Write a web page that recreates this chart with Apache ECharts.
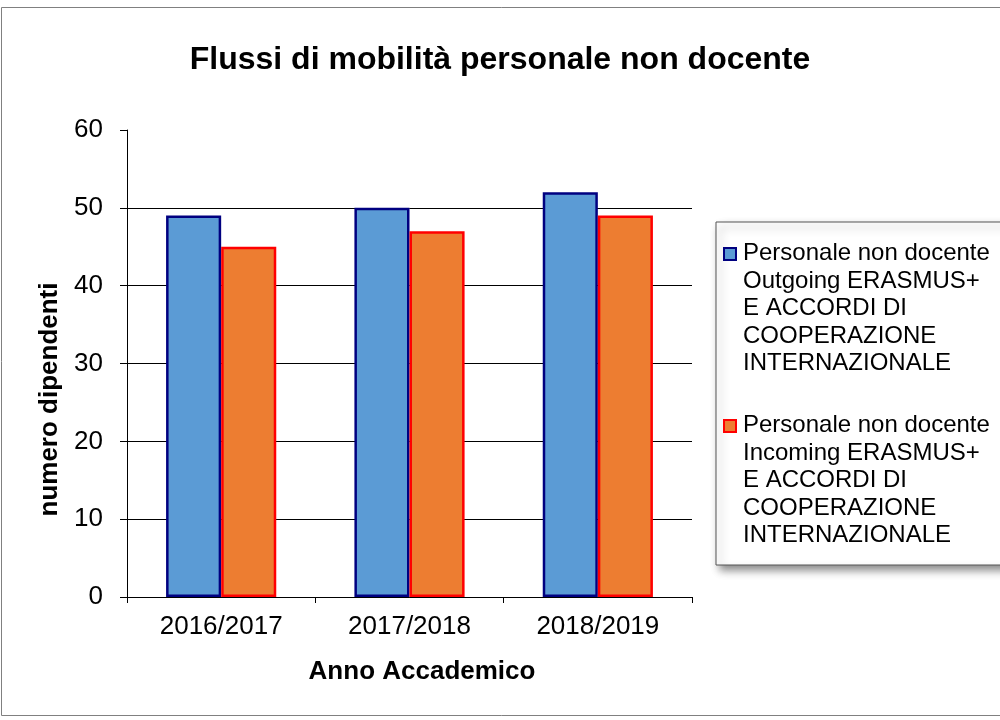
<!DOCTYPE html>
<html>
<head>
<meta charset="utf-8">
<title>Flussi di mobilità personale non docente</title>
<script src="https://cdn.jsdelivr.net/npm/echarts@6/dist/echarts.min.js"></script>
<style>
  html, body { margin: 0; padding: 0; background: #fff; }
  #chart { width: 1000px; height: 720px; }
</style>
</head>
<body>
<div id="chart"></div>
<script>
const categories = ['2016/2017', '2017/2018', '2018/2019'];
const outgoing = [49, 50, 52];
const incoming = [45, 47, 49];
const seriesNames = [
  'Personale non docente\nOutgoing ERASMUS+\nE ACCORDI DI\nCOOPERAZIONE\nINTERNAZIONALE',
  'Personale non docente\nIncoming ERASMUS+\nE ACCORDI DI\nCOOPERAZIONE\nINTERNAZIONALE'
];

const font = "'Liberation Sans', Arial, sans-serif";
// legend icon: small square near the top of a tall box, so it lines up with the first text line
const legendIcon = 'path://M0,8L12,8L12,20L0,20Z M0,0 M12,137';

const chart = echarts.init(document.getElementById('chart'));

const option = {
  backgroundColor: '#fff',
  animation: false,
  textStyle: { fontFamily: font, color: '#000' },
  title: {
    text: 'Flussi di mobilità personale non docente',
    left: 'center',
    top: 39,
    textStyle: { fontFamily: font, fontSize: 32, fontWeight: 'bold', color: '#000' }
  },
  graphic: [{
    type: 'rect',
    shape: { x: 1.5, y: 7.5, width: 1010, height: 708 },
    style: { fill: 'none', stroke: '#808080', lineWidth: 1 },
    z: -1
  }],
  legend: {
    orient: 'vertical',
    left: 716,
    top: 222,
    icon: legendIcon,
    itemWidth: 12,
    itemHeight: 137,
    itemGap: 33,
    padding: [17, 40, 15, 7],
    backgroundColor: '#fff',
    borderColor: '#555',
    borderWidth: 1,
    shadowBlur: 8,
    shadowColor: 'rgba(0,0,0,0.45)',
    shadowOffsetX: 4,
    shadowOffsetY: 5,
    textStyle: { fontFamily: font, fontSize: 24, lineHeight: 27.5, color: '#000', padding: [0, 0, 0, 2] },
    data: seriesNames
  },
  grid: { left: 127, right: 308, top: 130, bottom: 123 },
  xAxis: {
    type: 'category',
    data: categories,
    name: 'Anno Accademico',
    nameLocation: 'middle',
    nameGap: 62,
    nameTextStyle: { fontFamily: font, fontSize: 26, fontWeight: 'bold', color: '#000', padding: [0, 0, 0, 25] },
    axisLine: { lineStyle: { color: '#000', width: 1 } },
    axisTick: { show: true, length: 6, lineStyle: { color: '#000' } },
    axisLabel: { fontFamily: font, fontSize: 26, color: '#000', margin: 17 }
  },
  yAxis: {
    type: 'value',
    min: 0,
    max: 60,
    interval: 10,
    name: 'numero dipendenti',
    nameLocation: 'middle',
    nameGap: 58,
    nameTextStyle: { fontFamily: font, fontSize: 26, fontWeight: 'bold', color: '#000', padding: [0, 72, 0, 0] },
    axisLine: { show: true, lineStyle: { color: '#000', width: 1 } },
    axisTick: { show: true, length: 7, lineStyle: { color: '#000' } },
    axisLabel: { fontFamily: font, fontSize: 26, color: '#000', margin: 24 },
    splitLine: { show: true, showMaxLine: false, lineStyle: { color: '#000', width: 1 } }
  },
  series: [
    {
      name: seriesNames[0],
      type: 'bar',
      data: outgoing,
      barGap: 0,
      barCategoryGap: '41.5%',
      itemStyle: { color: '#5B9BD5', borderColor: '#000080', borderWidth: 2.5 }
    },
    {
      name: seriesNames[1],
      type: 'bar',
      data: incoming,
      itemStyle: { color: '#ED7D31', borderColor: '#FF0000', borderWidth: 2.5 }
    }
  ]
};

chart.setOption(option);
</script>
</body>
</html>
